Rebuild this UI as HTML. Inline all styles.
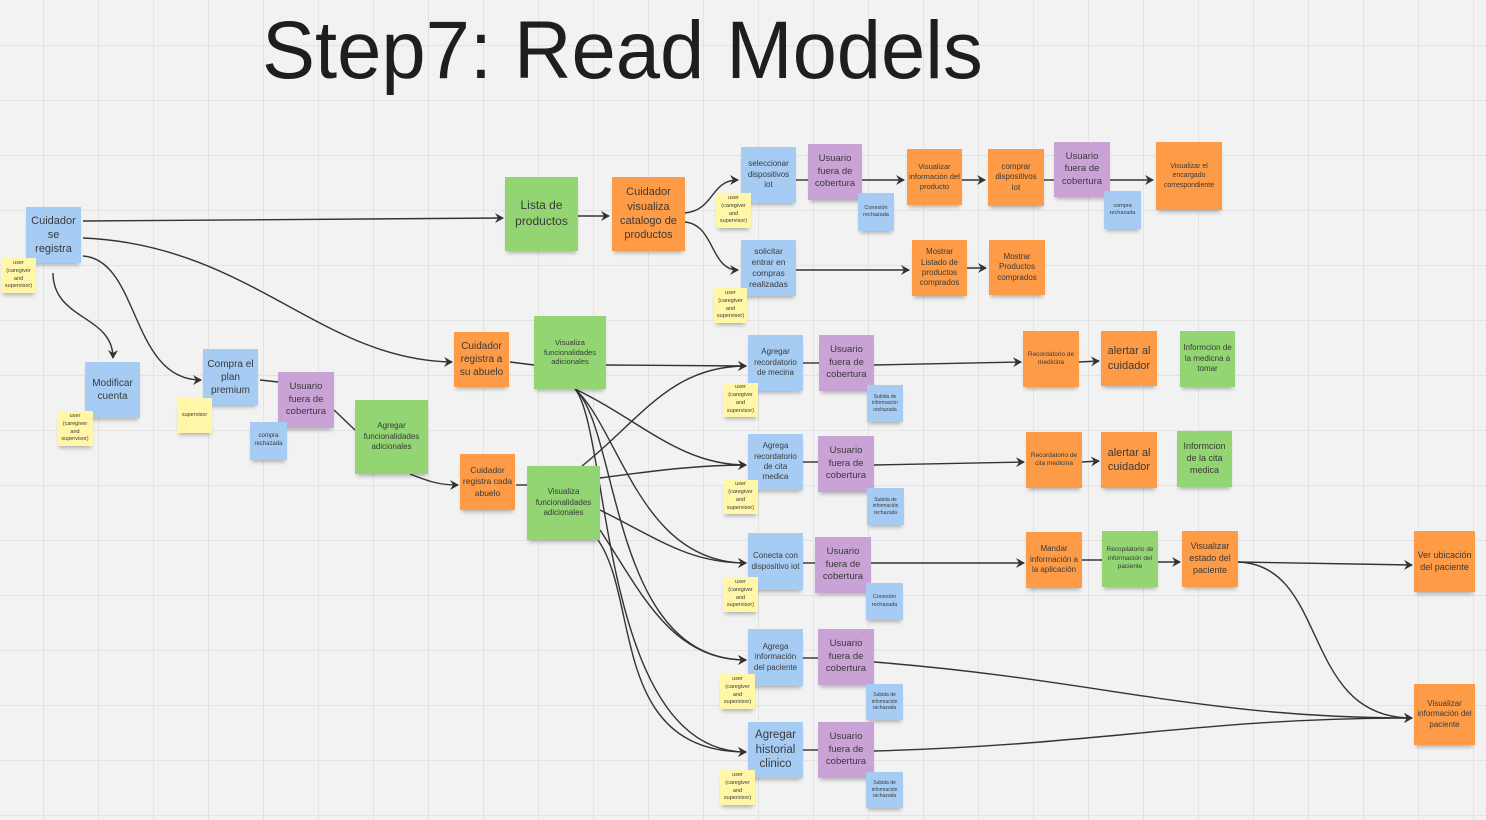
<!DOCTYPE html>
<html><head><meta charset="utf-8">
<style>
html,body{margin:0;padding:0}
body{width:1486px;height:820px;position:relative;overflow:hidden;background-color:#f2f2f2;
background-image:linear-gradient(to right,#e3e3e3 1px,transparent 1px),linear-gradient(to bottom,#e3e3e3 1px,transparent 1px);
background-size:55px 55px;background-position:43px 45px;font-family:"Liberation Sans",sans-serif;}
.t{position:absolute;left:262px;top:4px;font-size:82px;color:#1e1e1e;white-space:nowrap;transform:scaleX(0.97);transform-origin:left top}
.n{position:absolute;display:flex;align-items:center;justify-content:center;text-align:center;color:#3a3a3a;box-shadow:0 4px 4px -2px rgba(0,0,0,0.28);line-height:1.3;box-sizing:border-box;padding:2px}
.b{background:#a7ccf4}.p{background:#c9a2d6}.o{background:#fd9b47}.g{background:#93d473}.y{background:#fff6a8;font-size:5.5px;line-height:1.45}
svg{position:absolute;left:0;top:0}
</style></head><body>
<div class="t">Step7: Read Models</div>
<svg width="1486" height="820" fill="none" stroke="#333" stroke-width="1.4">
<defs><marker id="a" markerWidth="10" markerHeight="10" refX="8" refY="5" orient="auto" markerUnits="userSpaceOnUse"><path d="M0,0 L9,5 L0,10 L3,5z" fill="#333" stroke="none"/></marker></defs>
<g marker-end="url(#a)">
<path d="M83,221 L503,218"/>
<path d="M578,216 L609,216"/>
<path d="M685,213 C715,210 710,180 738,180"/>
<path d="M685,222 C715,225 710,270 738,270"/>
<path d="M862,180 L904,180"/>
<path d="M962,180 L985,180"/>
<path d="M1110,180 L1153,180"/>
<path d="M796,270 L909,270"/>
<path d="M967,268 L986,268"/>
<path d="M83,238 C250,245 320,360 452,362"/>
<path d="M83,256 C140,260 130,380 201,380"/>
<path d="M53,273 C53,320 113,315 113,358"/>
<path d="M410,474 C430,482 440,485 458,485"/>
<path d="M606,365 L746,366"/>
<path d="M575,389 C640,420 680,465 746,465"/>
<path d="M575,389 C620,430 640,563 746,563"/>
<path d="M575,389 C620,430 610,660 746,660"/>
<path d="M575,389 C610,430 600,752 746,752"/>
<path d="M582,466 C640,420 670,366 746,366"/>
<path d="M600,478 C660,470 700,465 746,465"/>
<path d="M600,510 C660,540 690,563 746,563"/>
<path d="M600,530 C640,590 670,660 746,660"/>
<path d="M598,540 C640,600 610,752 746,752"/>
<path d="M874,365 L1021,362"/>
<path d="M1079,362 L1099,361"/>
<path d="M874,465 L1024,462"/>
<path d="M1082,462 L1099,461"/>
<path d="M871,563 L1024,563"/>
<path d="M1158,562 L1180,562"/>
<path d="M1238,562 L1412,565"/>
<path d="M1238,562 C1330,565 1300,718 1412,718"/>
<path d="M874,662 C1100,680 1200,718 1412,718"/>
<path d="M874,751 C1100,745 1200,718 1412,718"/>
</g>
<path d="M796,180 L808,180"/><path d="M1044,180 L1054,180"/>
<path d="M260,380 L278,382"/><path d="M334,410 L355,430"/>
<path d="M510,362 L534,365"/><path d="M516,485 L527,485"/>
<path d="M803,363 L819,363"/><path d="M803,462 L818,462"/><path d="M803,563 L815,563"/>
<path d="M803,658 L818,658"/><path d="M803,750 L818,750"/>
<path d="M1082,560 L1102,560"/>
</svg>

<div class="n b" style="left:26px;top:207px;width:55px;height:56px;font-size:11px">Cuidador se registra</div>
<div class="n y" style="left:1px;top:258px;width:35px;height:35px">user (caregiver and supervisor)</div>
<div class="n b" style="left:85px;top:362px;width:55px;height:56px;font-size:10px">Modificar cuenta</div>
<div class="n y" style="left:57px;top:411px;width:36px;height:35px">user (caregiver and supervisor)</div>
<div class="n b" style="left:203px;top:349px;width:55px;height:56px;font-size:10px">Compra el plan premium</div>
<div class="n y" style="left:177px;top:398px;width:35px;height:35px">supervisor</div>
<div class="n p" style="left:278px;top:372px;width:56px;height:56px;font-size:9.5px">Usuario fuera de cobertura</div>
<div class="n b" style="left:250px;top:422px;width:37px;height:38px;font-size:6px">compra rechazada</div>
<div class="n g" style="left:355px;top:400px;width:73px;height:74px;font-size:8px">Agregar funcionalidades adicionales</div>
<div class="n g" style="left:505px;top:177px;width:73px;height:74px;font-size:12px">Lista de productos</div>
<div class="n o" style="left:612px;top:177px;width:73px;height:74px;font-size:11px">Cuidador visualiza catalogo de productos</div>

<div class="n b" style="left:741px;top:147px;width:55px;height:56px;font-size:8px">seleccionar dispositivos iot</div>
<div class="n y" style="left:716px;top:193px;width:35px;height:35px">user (caregiver and supervisor)</div>
<div class="n p" style="left:808px;top:144px;width:54px;height:56px;font-size:9.5px">Usuario fuera de cobertura</div>
<div class="n b" style="left:858px;top:193px;width:36px;height:38px;font-size:5.5px">Conexión rechazada</div>
<div class="n o" style="left:907px;top:149px;width:55px;height:56px;font-size:7.5px">Visualizar información del producto</div>
<div class="n o" style="left:988px;top:149px;width:56px;height:57px;font-size:8px">comprar dispositivos iot</div>
<div class="n p" style="left:1054px;top:142px;width:56px;height:55px;font-size:9.5px">Usuario fuera de cobertura</div>
<div class="n b" style="left:1104px;top:191px;width:37px;height:38px;font-size:5.5px">compra rechazada</div>
<div class="n o" style="left:1156px;top:142px;width:66px;height:68px;font-size:7px">Visualizar el encargado correspondiente</div>
<div class="n b" style="left:741px;top:240px;width:55px;height:56px;font-size:8.5px">solicitar entrar en compras realizadas</div>
<div class="n y" style="left:714px;top:288px;width:33px;height:35px">user (caregiver and supervisor)</div>
<div class="n o" style="left:912px;top:240px;width:55px;height:56px;font-size:8px">Mostrar Listado de productos comprados</div>
<div class="n o" style="left:989px;top:240px;width:56px;height:55px;font-size:8px">Mostrar Productos comprados</div>

<div class="n o" style="left:454px;top:332px;width:55px;height:55px;font-size:10px">Cuidador registra a su abuelo</div>
<div class="n g" style="left:534px;top:316px;width:72px;height:73px;font-size:7.5px">Visualiza funcionalidades adicionales</div>
<div class="n o" style="left:460px;top:454px;width:55px;height:56px;font-size:8.5px">Cuidador registra cada abuelo</div>
<div class="n g" style="left:527px;top:466px;width:73px;height:74px;font-size:8px">Visualiza funcionalidades adicionales</div>

<div class="n b" style="left:748px;top:335px;width:55px;height:56px;font-size:8px">Agregar recordatorio de mecina</div>
<div class="n y" style="left:723px;top:383px;width:35px;height:34px">user (caregiver and supervisor)</div>
<div class="n p" style="left:819px;top:335px;width:55px;height:56px;font-size:9.5px">Usuario fuera de cobertura</div>
<div class="n b" style="left:867px;top:385px;width:36px;height:37px;font-size:5px">Subida de información rechazada</div>
<div class="n o" style="left:1023px;top:331px;width:56px;height:56px;font-size:6.5px">Recordatorio de medicina</div>
<div class="n o" style="left:1101px;top:331px;width:56px;height:55px;font-size:11px">alertar al cuidador</div>
<div class="n g" style="left:1180px;top:331px;width:55px;height:56px;font-size:8px">Informcion de la medicna a tomar</div>

<div class="n b" style="left:748px;top:434px;width:55px;height:56px;font-size:8px">Agrega recordatorio de cita medica</div>
<div class="n y" style="left:723px;top:480px;width:35px;height:34px">user (caregiver and supervisor)</div>
<div class="n p" style="left:818px;top:436px;width:56px;height:56px;font-size:9.5px">Usuario fuera de cobertura</div>
<div class="n b" style="left:867px;top:488px;width:37px;height:37px;font-size:5px">Subida de información rechazada</div>
<div class="n o" style="left:1026px;top:432px;width:56px;height:56px;font-size:6.5px">Recordatorio de cita medicina</div>
<div class="n o" style="left:1101px;top:432px;width:56px;height:56px;font-size:11px">alertar al cuidador</div>
<div class="n g" style="left:1177px;top:431px;width:55px;height:56px;font-size:9px">Informcion de la cita medica</div>

<div class="n b" style="left:748px;top:533px;width:55px;height:57px;font-size:8px">Conecta con dispositivo iot</div>
<div class="n y" style="left:723px;top:577px;width:35px;height:35px">user (caregiver and supervisor)</div>
<div class="n p" style="left:815px;top:537px;width:56px;height:56px;font-size:9.5px">Usuario fuera de cobertura</div>
<div class="n b" style="left:866px;top:583px;width:37px;height:37px;font-size:5.5px">Conexión rechazada</div>
<div class="n o" style="left:1026px;top:532px;width:56px;height:56px;font-size:8px">Mandar información a la aplicación</div>
<div class="n g" style="left:1102px;top:531px;width:56px;height:56px;font-size:6.5px">Recopilatorio de información del paciente</div>
<div class="n o" style="left:1182px;top:531px;width:56px;height:56px;font-size:9px">Visualizar estado del paciente</div>
<div class="n o" style="left:1414px;top:531px;width:61px;height:61px;font-size:9px">Ver ubicación del paciente</div>

<div class="n b" style="left:748px;top:629px;width:55px;height:57px;font-size:8px">Agrega información del paciente</div>
<div class="n y" style="left:720px;top:674px;width:35px;height:35px">user (caregiver and supervisor)</div>
<div class="n p" style="left:818px;top:629px;width:56px;height:56px;font-size:9.5px">Usuario fuera de cobertura</div>
<div class="n b" style="left:866px;top:684px;width:37px;height:36px;font-size:5px">Subida de información rechazada</div>

<div class="n b" style="left:748px;top:722px;width:55px;height:56px;font-size:11.5px">Agregar historial clinico</div>
<div class="n y" style="left:720px;top:770px;width:35px;height:35px">user (caregiver and supervisor)</div>
<div class="n p" style="left:818px;top:722px;width:56px;height:56px;font-size:9.5px">Usuario fuera de cobertura</div>
<div class="n b" style="left:866px;top:772px;width:37px;height:36px;font-size:5px">Subida de información rechazada</div>

<div class="n o" style="left:1414px;top:684px;width:61px;height:61px;font-size:8px">Visualizar información del paciente</div>
</body></html>
